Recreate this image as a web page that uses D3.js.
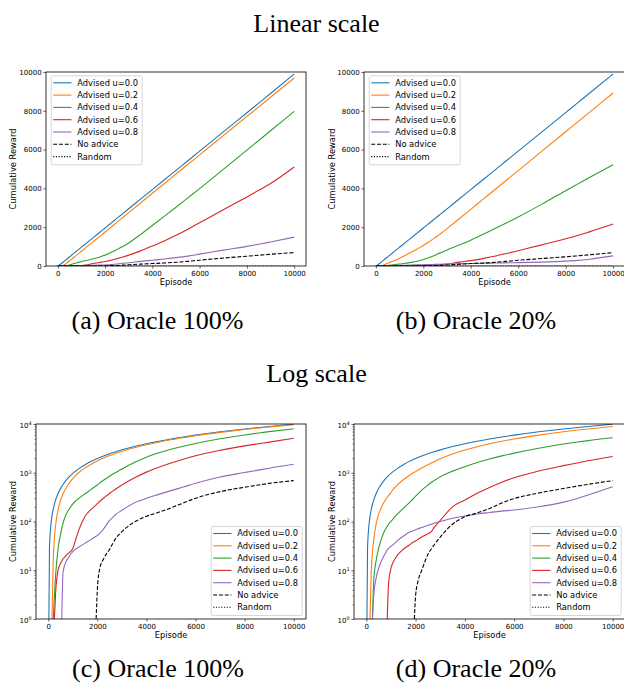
<!DOCTYPE html>
<html>
<head>
<meta charset="utf-8">
<script src="https://cdn.jsdelivr.net/npm/d3@7"></script>
<style>
	body { margin: 0; background: #fff; }
	svg text { font-family: "DejaVu Sans", sans-serif; fill: #000; }
	svg text.title { font-family: "Liberation Serif", serif; }
</style>
</head>
<body>
<svg id="fig" width="624" height="684"></svg>
<script>
// episodes on the x axis (denser near the start, where the log view needs it)
const episodes = [0, 25, 50, 100, 150, 200, 250, 300, 400, 500, 550, 600, 700, 850, 900, 1000, 1100, 1250, 1500, 1750,
	1950, 2000, 2100, 2250, 2500, 2650, 2750, 3000, 3500, 4000, 4500, 5000, 5500, 6000, 7000, 8000, 8500, 9000, 10000];

const seriesNames = ['Advised u=0.0', 'Advised u=0.2', 'Advised u=0.4', 'Advised u=0.6', 'Advised u=0.8', 'No advice', 'Random'];

// Oracle 100%
const full_u00 = [0, 1, 30, 79, 129, 178, 228, 277, 376, 475, 525, 574, 673, 822, 871, 970, 1069, 1218, 1465, 1713,
	1911, 1960, 2059, 2208, 2455, 2604, 2703, 2950, 3445, 3940, 4435, 4930, 5425, 5920, 6910, 7900, 8395, 8890, 9900];
const full_u02 = [0, 0, 0, 0, 1, 15, 45, 85, 175, 270, 320, 370, 465, 610, 660, 760, 860, 1010, 1260, 1500,
	1700, 1750, 1850, 2000, 2250, 2400, 2500, 2750, 3250, 3750, 4240, 4740, 5230, 5730, 6720, 7710, 8200, 8700, 9690];
const full_u04 = [0, 0, 0, 0, 0, 1, 3, 8, 28, 55, 72, 92, 130, 180, 195, 230, 260, 300, 370, 455,
	540, 560, 620, 700, 850, 950, 1010, 1190, 1620, 2090, 2560, 3030, 3510, 3990, 4980, 5970, 6470, 6970, 7970];
const full_u06 = [0, 0, 0, 0, 0, 0, 1, 3.5, 10, 14, 15.5, 17, 19.5, 23, 24, 28, 40, 68, 128, 178,
	220, 232, 260, 300, 380, 430, 465, 560, 780, 1030, 1290, 1580, 1900, 2230, 2900, 3560, 3900, 4250, 5100];
const full_u08 = [0, 0, 0, 0, 0, 0, 0, 0, 0, 0, 1, 9, 14, 19, 21, 24, 27, 30, 36, 43,
	50, 52, 57, 70, 105, 125, 140, 170, 240, 300, 360, 430, 510, 610, 820, 1010, 1120, 1240, 1490];
const full_none = [0, 0, 0, 0, 0, 0, 0, 0, 0, 0, 0, 0, 0, 0, 0, 0, 0, 0, 0, 0,
	1, 4, 11, 17, 27, 37, 45, 62, 97, 128, 155, 190, 240, 300, 410, 505, 555, 605, 690];

// Oracle 20%
const part_u00 = [0, 1, 28, 77, 127, 176, 226, 275, 374, 473, 523, 572, 671, 820, 869, 968, 1067, 1216, 1463, 1711,
	1909, 1958, 2057, 2206, 2453, 2602, 2701, 2948, 3443, 3938, 4433, 4928, 5423, 5918, 6913, 7908, 8405, 8903, 9900];
const part_u02 = [0, 0, 0, 0, 1, 9, 24, 42, 90, 140, 165, 190, 240, 315, 340, 395, 460, 555, 720, 880,
	1020, 1055, 1130, 1250, 1460, 1600, 1690, 1930, 2420, 2920, 3420, 3920, 4420, 4920, 5920, 6920, 7420, 7920, 8920];
const part_u04 = [0, 0, 0, 0, 0, 0, 1, 6, 16, 28, 35, 42, 58, 80, 88, 100, 115, 140, 185, 245,
	310, 330, 370, 440, 560, 640, 690, 830, 1080, 1330, 1620, 1920, 2220, 2530, 3190, 3880, 4220, 4560, 5220];
const part_u06 = [0, 0, 0, 0, 0, 0, 0, 0, 0, 0, 0, 0, 0, 1, 5, 11, 15, 20, 27, 33,
	39, 40, 43, 48, 56, 63, 75, 105, 200, 275, 380, 500, 640, 790, 1090, 1400, 1570, 1760, 2160];
const part_u08 = [0, 0, 0, 0, 0, 0, 1, 3, 7, 11, 13, 15, 19, 26, 28, 31, 34, 40, 50, 60,
	66, 68, 71, 75, 84, 88, 92, 100, 117, 130, 143, 153, 163, 172, 200, 250, 290, 350, 520];
const part_none = [0, 0, 0, 0, 0, 0, 0, 0, 0, 0, 0, 0, 0, 0, 0, 0, 0, 0, 0, 0,
	1, 3, 6, 10, 21, 28, 33, 48, 88, 125, 150, 185, 240, 295, 385, 475, 525, 578, 690];

// random agent never scores
const random_run = [0, 0, 0, 0, 0, 0, 0, 0, 0, 0, 0, 0, 0, 0, 0, 0, 0, 0, 0, 0,
	0, 0, 0, 0, 0, 0, 0, 0, 0, 0, 0, 0, 0, 0, 0, 0, 0, 0, 0];

const xTicks = [0, 2000, 4000, 6000, 8000, 10000];
const yTicksLinear = [0, 2000, 4000, 6000, 8000, 10000];
const yTicksLog = [1, 10, 100, 1000, 10000];

const rowTitles = ['Linear scale', 'Log scale'];
const captions = ['(a) Oracle 100%', '(b) Oracle 20%', '(c) Oracle 100%', '(d) Oracle 20%'];

const fullRuns = [full_u00, full_u02, full_u04, full_u06, full_u08, full_none, random_run];
const partRuns = [part_u00, part_u02, part_u04, part_u06, part_u08, part_none, random_run];

// THE LOOK
const colours = ['#1f77b4', '#ff7f0e', '#2ca02c', '#d62728', '#9467bd', '#000000', '#000000'];
const dashes = [null, null, null, null, null, '4,1.8', '1.1,1.6'];
const lineWidth = 1.1;
const tickFont = 7;
const labelFont = 8.3;

const panels = [
	{ key: 'a', left: 46, right: 306, top: 72, bottom: 266, log: false, runs: fullRuns, legend: 'ul', cap: 0, capX: 157.5, capY: 329 },
	{ key: 'b', left: 364, right: 625, top: 72, bottom: 266, log: false, runs: partRuns, legend: 'ul', cap: 1, capX: 476, capY: 329 },
	{ key: 'c', left: 36, right: 306, top: 424, bottom: 619, log: true, runs: fullRuns, legend: 'lr', cap: 2, capX: 158, capY: 677 },
	{ key: 'd', left: 354, right: 625, top: 424, bottom: 619, log: true, runs: partRuns, legend: 'lr', cap: 3, capX: 476, capY: 677 }
];

const svg = d3.select('#fig');
svg.append('rect').attr('width', 624).attr('height', 684).attr('fill', '#fff');

const drawLegend = (g, p) => {
	const w = 91, h = 89, rowH = 12.3;
	const x0 = p.legend === 'ul' ? p.left + 4.7 : p.right - 4.3 - w;
	const y0 = p.legend === 'ul' ? p.top + 3.3 : p.bottom - 4 - h;

	const lg = g.append('g').attr('class', 'legend').attr('transform', `translate(${x0},${y0})`);
	lg.append('rect')
		.attr('x', 0.5).attr('y', 0.5)
		.attr('width', w).attr('height', h)
		.attr('rx', 2)
		.attr('fill', 'rgba(255,255,255,0.8)')
		.attr('stroke', '#cccccc')
		.attr('stroke-width', 0.8);

	seriesNames.forEach((name, i) => {
		const cy = 7.5 + i * rowH;
		lg.append('line')
			.attr('x1', 2.5).attr('x2', 20.8)
			.attr('y1', cy).attr('y2', cy)
			.attr('stroke', colours[i])
			.attr('stroke-width', lineWidth)
			.attr('stroke-dasharray', dashes[i]);
		lg.append('text')
			.attr('x', 26.5)
			.attr('y', cy)
			.attr('dy', '0.36em')
			.attr('font-size', labelFont)
			.text(name);
	});
};

const drawPanel = (p) => {
	const g = svg.append('g').attr('class', `panel panel-${p.key}`);

	const x = d3.scaleLinear().domain([-500, 10500]).range([p.left, p.right]);
	const y = p.log
		? d3.scaleLog().domain([1, 10000]).range([p.bottom, p.top])
		: d3.scaleLinear().domain([0, 10000]).range([p.bottom, p.top]);

	g.append('clipPath')
		.attr('id', `clip-${p.key}`)
		.append('rect')
		.attr('x', p.left).attr('y', p.top)
		.attr('width', p.right - p.left).attr('height', p.bottom - p.top);

	// data lines
	const line = d3.line()
		.x(d => x(d.e))
		.y(d => y(d.v))
		.curve(d3.curveMonotoneX);

	const lines = g.append('g').attr('clip-path', `url(#clip-${p.key})`);
	p.runs.forEach((run, i) => {
		let pts = episodes.map((e, j) => ({ e: e, v: run[j] }));
		if (p.log) pts = pts.filter(d => d.v > 0); // log axis drops non-positive values
		if (pts.length < 2) return;
		lines.append('path')
			.datum(pts)
			.attr('fill', 'none')
			.attr('stroke', colours[i])
			.attr('stroke-width', lineWidth)
			.attr('stroke-dasharray', dashes[i])
			.attr('d', line);
	});

	// x axis
	g.append('g')
		.attr('transform', `translate(0,${p.bottom})`)
		.call(d3.axisBottom(x)
			.tickValues(xTicks)
			.tickSize(2.6)
			.tickPadding(2)
			.tickSizeOuter(0)
			.tickFormat(d3.format('d')))
		.call(a => a.select('.domain').remove())
		.call(a => a.selectAll('text').attr('font-size', tickFont).attr('font-family', null).attr('fill', '#000'))
		.call(a => a.selectAll('line').attr('stroke-width', 0.6));

	// y axis
	if (!p.log) {
		g.append('g')
			.attr('transform', `translate(${p.left},0)`)
			.call(d3.axisLeft(y)
				.tickValues(yTicksLinear)
				.tickSize(2.6)
				.tickPadding(1.8)
				.tickSizeOuter(0)
				.tickFormat(d3.format('d')))
			.call(a => a.select('.domain').remove())
			.call(a => a.selectAll('text').attr('font-size', tickFont).attr('font-family', null).attr('fill', '#000'))
			.call(a => a.selectAll('line').attr('stroke-width', 0.6));
	} else {
		const minor = [];
		[1, 10, 100, 1000].forEach(b => { for (let k = 2; k <= 9; k++) minor.push(b * k); });
		g.append('g')
			.attr('transform', `translate(${p.left},0)`)
			.call(d3.axisLeft(y).tickValues(minor).tickSize(1.5).tickFormat('').tickSizeOuter(0))
			.call(a => a.select('.domain').remove())
			.call(a => a.selectAll('line').attr('stroke-width', 0.5));
		const ya = g.append('g')
			.attr('transform', `translate(${p.left},0)`)
			.call(d3.axisLeft(y)
				.tickValues(yTicksLog)
				.tickSize(2.6)
				.tickPadding(1.8)
				.tickSizeOuter(0)
				.tickFormat(''))
			.call(a => a.select('.domain').remove())
			.call(a => a.selectAll('line').attr('stroke-width', 0.6));
		ya.selectAll('.tick text').each(function (d) {
			const t = d3.select(this)
				.attr('font-size', tickFont)
				.attr('font-family', null)
				.attr('fill', '#000')
				.attr('dy', '0.45em');
			t.append('tspan').text('10');
			t.append('tspan')
				.attr('font-size', tickFont * 0.7)
				.attr('dy', '-0.55em')
				.text(Math.round(Math.log10(d)));
		});
	}

	// spines
	g.append('rect')
		.attr('x', p.left).attr('y', p.top)
		.attr('width', p.right - p.left).attr('height', p.bottom - p.top)
		.attr('fill', 'none')
		.attr('stroke', '#000')
		.attr('stroke-width', 0.8);

	// axis labels
	g.append('text')
		.attr('x', (p.left + p.right) / 2)
		.attr('y', p.bottom + 19)
		.attr('text-anchor', 'middle')
		.attr('font-size', labelFont)
		.text('Episode');

	const labelX = p.key === 'a' || p.key === 'c' ? 13 : 332;
	g.append('text')
		.attr('transform', `translate(${labelX + 3},${(p.top + p.bottom) / 2}) rotate(-90)`)
		.attr('text-anchor', 'middle')
		.attr('font-size', labelFont)
		.text('Cumulative Reward');

	drawLegend(g, p);

	// sub caption
	svg.append('text')
		.attr('class', 'title')
		.attr('x', p.capX)
		.attr('y', p.capY)
		.attr('text-anchor', 'middle')
		.attr('font-size', 26)
		.text(captions[p.cap]);
};

panels.forEach(drawPanel);

// row headings
svg.append('text')
	.attr('class', 'title')
	.attr('x', 316.5).attr('y', 32)
	.attr('text-anchor', 'middle')
	.attr('font-size', 26)
	.text(rowTitles[0]);

svg.append('text')
	.attr('class', 'title')
	.attr('x', 316.5).attr('y', 382)
	.attr('text-anchor', 'middle')
	.attr('font-size', 26)
	.text(rowTitles[1]);
</script>
</body>
</html>
